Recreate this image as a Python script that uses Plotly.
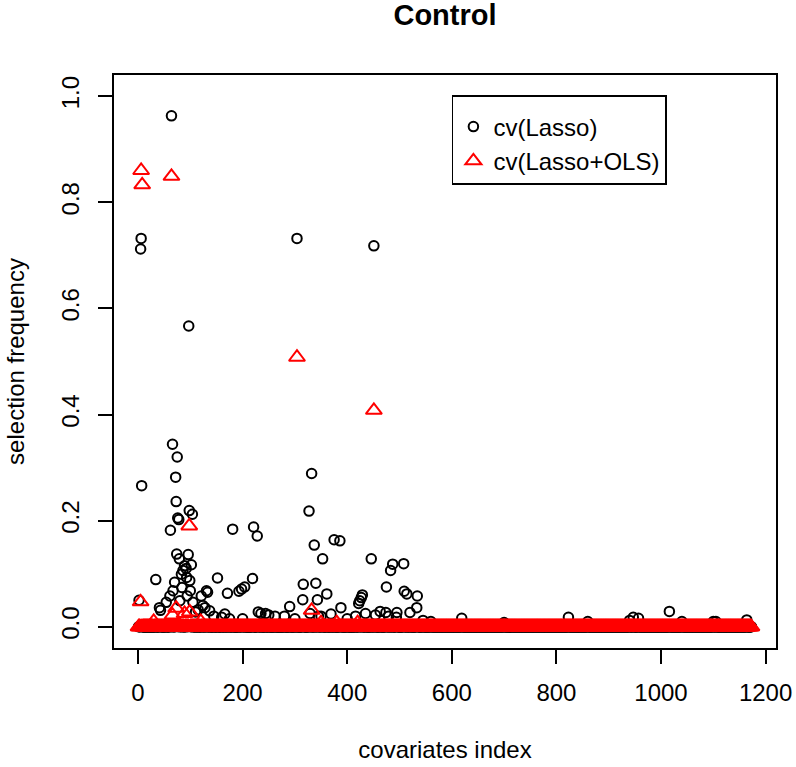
import plotly.graph_objects as go

# ---- data ----
N_COVARIATES = 1173

# cv(Lasso): covariate index -> selection frequency (all other covariates ~0)
lasso_index = [6, 5, 64, 97, 304, 451,
               66, 75, 72, 7, 73, 76, 78, 98, 104, 62, 181, 221, 228, 332, 327, 337, 353, 375, 386, 446, 487, 483, 508, 475,
               74, 96, 79, 102, 89, 92, 86, 83, 34, 93, 99, 70, 152, 219, 84, 67, 100, 131, 171, 61, 94, 121, 54, 80, 105, 128, 41, 137, 166,
               193, 198, 204, 316, 340, 315, 343, 361, 290, 388, 429, 427, 424, 422, 509, 514, 534, 533, 520, 474, 495, 463, 2, 43, 124, 133,
               619, 823, 947, 957, 1016, 1164, 1105,
               244, 250, 262, 329, 345, 369, 416, 435, 454, 479, 494, 230, 235, 110, 115, 145, 160, 175, 200, 280, 300, 350, 400, 545, 560, 700, 860, 940, 1040, 1100]
lasso_freq = [0.732, 0.712, 0.963, 0.567, 0.732, 0.718,
              0.344, 0.320, 0.282, 0.266, 0.236, 0.205, 0.202, 0.219, 0.212, 0.182, 0.184, 0.188, 0.171, 0.289, 0.218, 0.154, 0.128, 0.164, 0.162, 0.128, 0.118, 0.106, 0.119, 0.075,
              0.137, 0.136, 0.128, 0.117, 0.115, 0.110, 0.106, 0.099, 0.089, 0.093, 0.087, 0.084, 0.092, 0.091, 0.074, 0.068, 0.068, 0.068, 0.063, 0.058, 0.058, 0.058, 0.046, 0.049, 0.046, 0.036, 0.036, 0.030, 0.024,
              0.067, 0.071, 0.075, 0.080, 0.082, 0.051, 0.051, 0.062, 0.038, 0.036, 0.060, 0.055, 0.049, 0.044, 0.067, 0.062, 0.058, 0.036, 0.027, 0.027, 0.027, 0.029, 0.050, 0.031, 0.040, 0.065,
              0.016, 0.018, 0.018, 0.016, 0.029, 0.013, 0.010,
              0.025, 0.022, 0.020, 0.025, 0.020, 0.024, 0.020, 0.025, 0.022, 0.020, 0.018, 0.028, 0.025, 0.028, 0.032, 0.020, 0.018, 0.015, 0.015, 0.020, 0.015, 0.020, 0.015, 0.012, 0.010, 0.008, 0.010, 0.012, 0.010, 0.010]

# cv(Lasso+OLS): covariate index -> selection frequency (all other covariates ~0)
ols_index = [6, 8, 64, 304, 451, 98, 5, 73, 89, 99, 66, 332, 350, 380, 420, 30, 120]
ols_freq = [0.860, 0.833, 0.849, 0.508, 0.408, 0.190, 0.047, 0.035, 0.025, 0.028, 0.022, 0.031, 0.008, 0.008, 0.008, 0.010, 0.010]

x_ticks = [0, 200, 400, 600, 800, 1000, 1200]
y_ticks = [0.0, 0.2, 0.4, 0.6, 0.8, 1.0]

# ---- build full series ----
covariates = list(range(1, N_COVARIATES + 1))
lasso = [0.0] * N_COVARIATES
for i, v in zip(lasso_index, lasso_freq):
    lasso[i - 1] = v
ols = [0.0] * N_COVARIATES
for i, v in zip(ols_index, ols_freq):
    ols[i - 1] = v

FONT = "Liberation Sans, Arial, Helvetica, sans-serif"
FS = 24

fig = go.Figure()
fig.add_trace(go.Scatter(
    x=covariates, y=lasso, mode="markers", name="cv(Lasso)",
    marker=dict(symbol="circle-open", size=9.5, color="black",
                line=dict(color="black", width=2)),
))
fig.add_trace(go.Scatter(
    x=covariates, y=ols, mode="markers", name="cv(Lasso+OLS)",
    marker=dict(symbol="triangle-up-open", size=14, color="red",
                line=dict(color="red", width=2)),
))

lo, hi = 1, N_COVARIATES
pad = 0.04 * (hi - lo)

axis_common = dict(
    showgrid=False, zeroline=False, automargin=False,
    showline=True, mirror=True, linecolor="black", linewidth=1.7,
    ticks="outside", ticklen=14, tickwidth=1.7, tickcolor="black",
    tickfont=dict(family=FONT, size=FS, color="black"),
    title_font=dict(family=FONT, size=FS, color="black"),
)

fig.update_layout(
    width=796, height=767,
    margin=dict(l=114, r=20, t=75, b=119),
    paper_bgcolor="white", plot_bgcolor="white",
    title=dict(text="Control", x=0.5, xref="paper", xanchor="center",
               y=1 - 15 / 767, yref="container", yanchor="middle",
               font=dict(family=FONT, size=29, color="black", weight="bold")),
    xaxis=dict(range=[lo - pad, hi + pad], tickvals=x_ticks,
               ticktext=[str(t) for t in x_ticks], ticklabelstandoff=8,
               title=dict(text="covariates index", standoff=37), **axis_common),
    yaxis=dict(range=[-0.04, 1.04], tickvals=y_ticks,
               ticktext=[f"{t:.1f}" for t in y_ticks], tickangle=-90,
               ticklabelstandoff=10,
               title=dict(text="selection frequency", standoff=25), **axis_common),
    showlegend=True,
    legend=dict(x=(451.7 - 114) / 662, y=(648 - 95) / 573, xanchor="left", yanchor="top",
                bordercolor="black", borderwidth=1.7, bgcolor="white",
                entrywidth=176, entrywidthmode="pixels",
                title=dict(text=" ", font=dict(family=FONT, size=6)),
                font=dict(family=FONT, size=FS, color="black")),
)

fig.write_html("out.html", post_script="document.body.style.margin='0';",
               config={"displayModeBar": False})
